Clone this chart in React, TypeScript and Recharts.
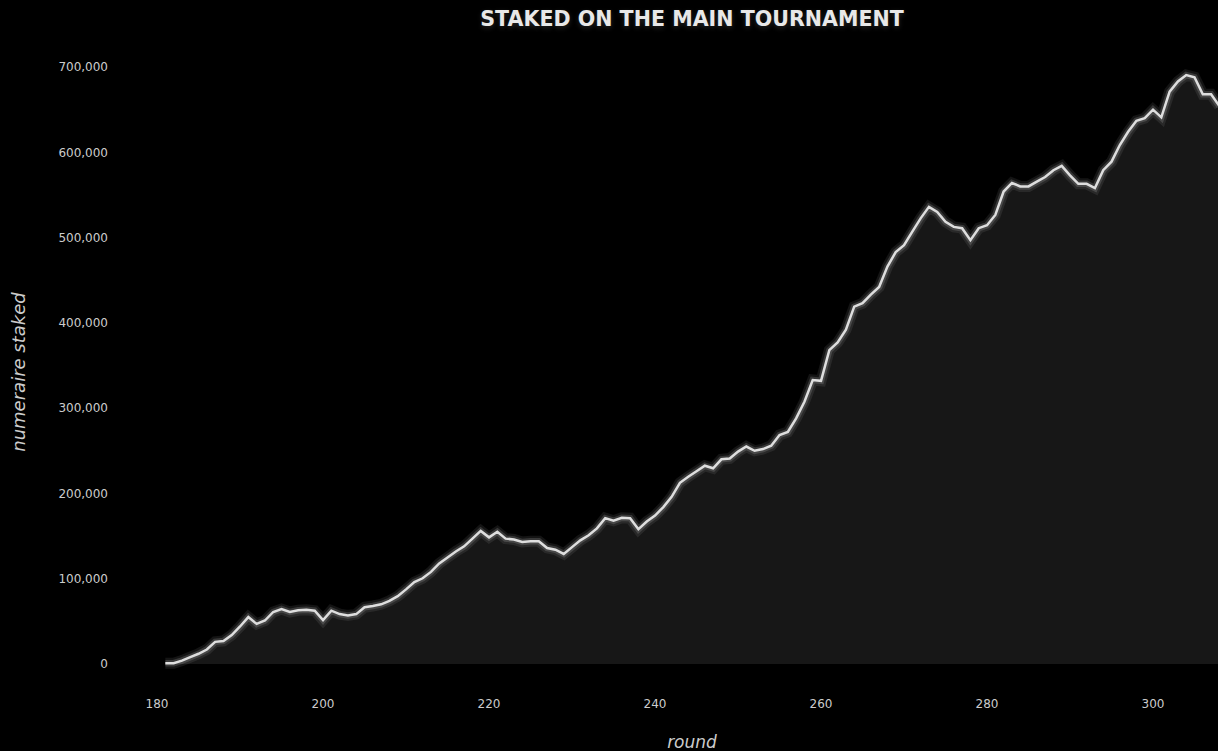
import { ComposedChart, Area, Line, XAxis, YAxis } from 'recharts';

const rounds = [
  181, 182, 183, 184, 185, 186, 187, 188, 189, 190,
  191, 192, 193, 194, 195, 196, 197, 198, 199, 200,
  201, 202, 203, 204, 205, 206, 207, 208, 209, 210,
  211, 212, 213, 214, 215, 216, 217, 218, 219, 220,
  221, 222, 223, 224, 225, 226, 227, 228, 229, 230,
  231, 232, 233, 234, 235, 236, 237, 238, 239, 240,
  241, 242, 243, 244, 245, 246, 247, 248, 249, 250,
  251, 252, 253, 254, 255, 256, 257, 258, 259, 260,
  261, 262, 263, 264, 265, 266, 267, 268, 269, 270,
  271, 272, 273, 274, 275, 276, 277, 278, 279, 280,
  281, 282, 283, 284, 285, 286, 287, 288, 289, 290,
  291, 292, 293, 294, 295, 296, 297, 298, 299, 300,
  301, 302, 303, 304, 305, 306, 307, 308,
];

const staked = [
  1000, 1000, 4000, 8000, 12000, 17000, 26000, 27000, 34000, 44000,
  55000, 47000, 51000, 61000, 64500, 61000, 63000, 63500, 62500, 51500,
  62500, 58500, 57000, 58500, 66500, 68000, 70000, 74000, 79500, 87500,
  96000, 100500, 108000, 118000, 125000, 132000, 138000, 147000, 156000, 148500,
  155000, 147000, 146000, 143000, 144000, 144000, 136000, 134000, 129000, 137000,
  145000, 151000, 159000, 171000, 168000, 171500, 171000, 158000, 167000, 174000,
  184000, 196000, 212500, 219500, 226000, 232500, 229500, 240000, 241000, 249000,
  255000, 250000, 252000, 256000, 268500, 272000, 288000, 307500, 333000, 332000,
  368000, 377000, 392000, 419000, 423000, 433000, 442000, 466000, 483000, 491000,
  507000, 522500, 536000, 530000, 518500, 512500, 511000, 497000, 511000, 514500,
  526500, 554000, 564000, 560000, 560000, 565500, 571000, 579000, 584000, 573000,
  563000, 563000, 558000, 579000, 589000, 608500, 624000, 637000, 640000, 650000,
  641000, 671000, 683000, 690500, 688000, 668000, 668000, 654000,
];

const xTicks = [180, 200, 220, 240, 260, 280, 300];
const yTicks = [0, 100000, 200000, 300000, 400000, 500000, 600000, 700000];

const data = rounds.map((r, i) => ({ round: r, staked: staked[i] }));

const font = '"DejaVu Sans", sans-serif';
const tickStyle = { fill: '#cccccc', fontSize: 12, fontFamily: font };

export default function App() {
  return (
    <div
      style={{
        position: 'fixed',
        left: 0,
        top: 0,
        width: 1218,
        height: 751,
        overflow: 'hidden',
        background: '#000',
        fontFamily: font,
      }}
    >
      <ComposedChart
        width={1240}
        height={751}
        data={data}
        margin={{ top: 41, right: 0, bottom: 0, left: 0 }}
      >
        <XAxis
          dataKey="round"
          type="number"
          domain={[178.55, 310.48]}
          ticks={xTicks}
          allowDataOverflow
          axisLine={false}
          tickLine={false}
          tickSize={0}
          tickMargin={10}
          height={62}
          tick={tickStyle}
        />
        <YAxis
          type="number"
          domain={[-29312, 730467]}
          ticks={yTicks}
          allowDataOverflow
          axisLine={false}
          tickLine={false}
          tickSize={0}
          tickMargin={37}
          width={145}
          tick={tickStyle}
          tickFormatter={(v: number) => v.toLocaleString('en-US')}
        />
        <Area
          dataKey="staked"
          type="linear"
          baseValue={0}
          fill="#171717"
          fillOpacity={1}
          stroke="none"
          isAnimationActive={false}
        />
        <Line
          dataKey="staked"
          type="linear"
          stroke="#ffffff"
          strokeOpacity={0.08}
          strokeWidth={11}
          dot={false}
          isAnimationActive={false}
        />
        <Line
          dataKey="staked"
          type="linear"
          stroke="#ffffff"
          strokeOpacity={0.15}
          strokeWidth={6.5}
          dot={false}
          isAnimationActive={false}
        />
        <Line
          dataKey="staked"
          type="linear"
          stroke="#dedede"
          strokeWidth={2.5}
          dot={false}
          isAnimationActive={false}
        />
      </ComposedChart>

      <div
        style={{
          position: 'absolute',
          left: 0,
          width: 1384,
          top: 8.6,
          textAlign: 'center',
          fontSize: 20.6,
          lineHeight: 1,
          fontWeight: 'bold',
          color: '#e8e8e8',
          whiteSpace: 'nowrap',
          textShadow: '0 2px 5px rgba(255,255,255,0.15)',
        }}
      >
        STAKED ON THE MAIN TOURNAMENT
      </div>

      <div
        style={{
          position: 'absolute',
          left: 19,
          top: 372,
          transform: 'translate(-50%, -50%) rotate(-90deg)',
          fontSize: 18,
          lineHeight: 1,
          fontStyle: 'italic',
          color: '#cccccc',
          whiteSpace: 'nowrap',
        }}
      >
        numeraire staked
      </div>

      <div
        style={{
          position: 'absolute',
          left: 0,
          width: 1384,
          top: 733.6,
          textAlign: 'center',
          fontSize: 17,
          lineHeight: 1,
          fontStyle: 'italic',
          color: '#cccccc',
          whiteSpace: 'nowrap',
        }}
      >
        round
      </div>
    </div>
  );
}
